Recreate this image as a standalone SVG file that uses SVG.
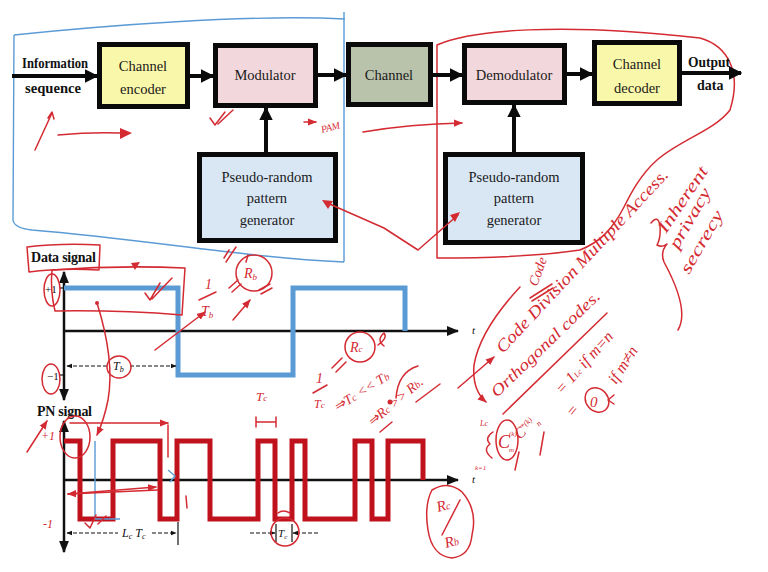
<svg xmlns="http://www.w3.org/2000/svg" width="768" height="572" viewBox="0 0 768 572">
<defs>
<style>
.blk{stroke:#0a0a0a;stroke-width:5}
.bt{font-family:"Liberation Serif",serif;font-size:14.5px;fill:#1a1a1a;text-anchor:middle}
.lb{font-family:"Liberation Serif",serif;font-size:14px;font-weight:bold;fill:#111}
.cn{stroke:#0a0a0a;stroke-width:4;fill:none}
.ax{stroke:#111;stroke-width:2.5;fill:none}
.dm{stroke:#111;stroke-width:1.2;fill:none;stroke-dasharray:4 2}
.it{font-family:"Liberation Serif",serif;font-style:italic;fill:#111}
.hw{font-family:"Liberation Serif",serif;font-style:italic;fill:#d42a32}
.rs{stroke:#d42a32;fill:none;stroke-width:1.5;stroke-linecap:round;stroke-linejoin:round}
.bs{stroke:#5b9bd5;fill:none;stroke-width:1.4}
</style>
<marker id="ah" viewBox="0 0 10 10" refX="9" refY="5" markerWidth="3.4" markerHeight="3.4" orient="auto"><path d="M0,0 L10,5 L0,10 Z" fill="#0a0a0a"/></marker>
<marker id="as" viewBox="0 0 10 10" refX="9" refY="5" markerWidth="5" markerHeight="5" orient="auto"><path d="M0,1 L10,5 L0,9 Z" fill="#111"/></marker>
<marker id="asb" viewBox="0 0 10 10" refX="1" refY="5" markerWidth="5" markerHeight="5" orient="auto"><path d="M10,1 L0,5 L10,9 Z" fill="#111"/></marker>
<marker id="ar" viewBox="0 0 10 10" refX="9" refY="5" markerWidth="6" markerHeight="6" orient="auto"><path d="M0,1 L10,5 L0,9 Z" fill="#d42a32"/></marker>
</defs>
<rect width="768" height="572" fill="#ffffff"/>

<!-- hand-drawn outlines -->
<path class="bs" d="M14,35 C100,26 250,14 345,19 M344,12 L344,262 M14,35 L13,220 Q14,228 32,230 C150,240 250,258 344,262"/>
<path class="rs" d="M437,258 L437,45 C470,30 560,22 700,38 C728,46 742,72 730,110 C715,130 680,140 657,160 C640,175 630,195 624,207 C612,230 600,242 580,250 C540,256 480,258 437,258"/>

<!-- connectors -->
<g id="connectors">
<line class="cn" x1="12" y1="76" x2="97" y2="76" marker-end="url(#ah)"/>
<line class="cn" x1="190" y1="76" x2="213" y2="76" marker-end="url(#ah)"/>
<line class="cn" x1="318" y1="75" x2="346" y2="75" marker-end="url(#ah)"/>
<line class="cn" x1="433" y1="75" x2="462" y2="75" marker-end="url(#ah)"/>
<line class="cn" x1="567" y1="74" x2="592" y2="74" marker-end="url(#ah)"/>
<line class="cn" x1="682" y1="73" x2="741" y2="73" marker-end="url(#ah)"/>
<line class="cn" x1="266" y1="152" x2="266" y2="108" marker-end="url(#ah)"/>
<line class="cn" x1="514" y1="152" x2="514" y2="105" marker-end="url(#ah)"/>
</g>

<text class="lb" x="22" y="68" textLength="66" lengthAdjust="spacingAndGlyphs">Information</text>
<text class="lb" x="25" y="93" textLength="56" lengthAdjust="spacingAndGlyphs">sequence</text>
<text class="lb" x="688" y="67" textLength="42" lengthAdjust="spacingAndGlyphs">Output</text>
<text class="lb" x="697" y="90">data</text>

<g id="encoder"><rect class="blk" x="99.5" y="44.5" width="88" height="62" fill="#f9f7a9"/>
<text class="bt" x="143" y="71">Channel</text><text class="bt" x="143" y="94">encoder</text></g>
<g id="modulator"><rect class="blk" x="215.5" y="45.5" width="100" height="60" fill="#f2d8dc"/>
<text class="bt" x="265" y="80">Modulator</text></g>
<g id="channel"><rect class="blk" x="348.5" y="44.5" width="82" height="60" fill="#b9c3ab"/>
<text class="bt" x="389" y="80">Channel</text></g>
<g id="demodulator"><rect class="blk" x="464.5" y="45.5" width="100" height="57" fill="#f2d8dc"/>
<text class="bt" x="514" y="80">Demodulator</text></g>
<g id="decoder"><rect class="blk" x="594.5" y="42.5" width="85" height="61" fill="#f9f7a9"/>
<text class="bt" x="637" y="69">Channel</text><text class="bt" x="637" y="93">decoder</text></g>
<g id="prpg-tx"><rect class="blk" x="199.5" y="154.5" width="136" height="86" fill="#d9e7f5"/>
<text class="bt" x="267" y="182">Pseudo-random</text><text class="bt" x="267" y="203">pattern</text><text class="bt" x="267" y="225">generator</text></g>
<g id="prpg-rx"><rect class="blk" x="445.5" y="154.5" width="137" height="88" fill="#d9e7f5"/>
<text class="bt" x="514" y="182">Pseudo-random</text><text class="bt" x="514" y="203">pattern</text><text class="bt" x="514" y="225">generator</text></g>

<!-- Data signal plot -->
<text class="lb" x="31" y="262" font-size="12" textLength="65">Data signal</text>
<line class="ax" x1="64" y1="400" x2="64" y2="272" marker-start="url(#asb)" marker-end="url(#as)"/>
<line class="ax" x1="64" y1="331" x2="458" y2="331" marker-end="url(#as)"/>
<line x1="60" y1="288" x2="64" y2="288" stroke="#111" stroke-width="1.2"/>
<line x1="60" y1="375" x2="64" y2="375" stroke="#111" stroke-width="1.2"/>
<text class="it" x="472" y="334" font-size="11">t</text>
<text x="45" y="293" font-family="Liberation Serif,serif" font-size="11" fill="#111">+1</text>
<text x="47" y="380" font-family="Liberation Serif,serif" font-size="11" fill="#111">−1</text>
<path d="M64,288 H178 V375 H293 V288 H405 V331" fill="none" stroke="#5b9bd5" stroke-width="5"/>
<line class="dm" x1="67" y1="366" x2="108" y2="366" marker-start="url(#asb)"/>
<line class="dm" x1="130" y1="366" x2="176" y2="366" marker-end="url(#as)"/>
<text class="it" x="113" y="370" font-size="12">T<tspan font-size="8" dy="2">b</tspan></text>

<!-- PN signal plot -->
<text class="lb" x="37" y="416" font-size="11.5" textLength="55">PN signal</text>
<line class="ax" x1="64" y1="552" x2="64" y2="421" marker-start="url(#asb)" marker-end="url(#as)"/>
<line class="ax" x1="64" y1="480" x2="458" y2="480" marker-end="url(#as)"/>
<text class="it" x="472" y="483" font-size="11">t</text>
<path d="M64,441 H80 V519 H113 V441 H160 V519 H177 V441 H210 V519 H258 V441 H275 V519 H292 V441 H305 V519 H355 V441 H372 V519 H388 V441 H423 V480" fill="none" stroke="#c0121c" stroke-width="5"/>
<line class="dm" x1="67" y1="533" x2="118" y2="533" marker-start="url(#asb)"/>
<line class="dm" x1="152" y1="533" x2="176" y2="533" marker-end="url(#as)"/>
<line x1="178" y1="522" x2="178" y2="545" stroke="#111" stroke-width="1.2"/>
<text class="it" x="122" y="537" font-size="12">L<tspan font-size="8" dy="2">c</tspan><tspan dy="-2"> T</tspan><tspan font-size="8" dy="2">c</tspan></text>
<line class="dm" x1="250" y1="533" x2="275" y2="533" marker-end="url(#as)"/>
<line class="dm" x1="318" y1="533" x2="293" y2="533" marker-end="url(#as)"/>
<line x1="276" y1="524" x2="276" y2="542" stroke="#111" stroke-width="1.2"/>
<line x1="292" y1="524" x2="292" y2="542" stroke="#111" stroke-width="1.2"/>
<text class="it" x="278" y="537" font-size="11">T<tspan font-size="7" dy="2">c</tspan></text>

<!-- blue pen marks -->
<path class="bs" d="M95,441 V519 H120 M168,470 L175,476 L170,482"/>

<!-- red pen annotations: top -->
<path class="rs" d="M35,150 L52,113 M48,118 L52,112 L54,119"/>
<path class="rs" d="M58,135 Q90,132 120,133"/><path d="M120,128 L132,133 L120,139 Z" fill="#d42a32"/>
<path class="rs" d="M210,118 L215,125 L225,112 M218,124 L233,110"/>
<path class="rs" d="M304,122 H316" marker-end="url(#ar)"/>
<text class="hw" x="322" y="133" font-size="10" transform="rotate(-15 322 133)">PAM</text>
<path class="rs" d="M363,132 Q410,124 462,123" marker-end="url(#ar)"/>
<path class="rs" d="M384,228 L325,202 M384,228 L418,250 L458,215"/>
<path d="M322,200 L333,201 L328,209 Z M460,212 L455,222 L450,215 Z" fill="#d42a32"/>
<path class="rs" d="M224,258 L229,250 M226,262 L236,247 M248,255 L246,262"/>

<!-- red pen annotations: data signal -->
<path class="rs" d="M27,247 Q60,243 100,245 L99,270 Q60,268 29,272 Z"/>
<path class="rs" d="M52,270 Q120,265 185,268 L182,315 Q120,310 55,311 Q50,290 52,270"/>
<ellipse class="rs" cx="52" cy="290" rx="8" ry="16"/>
<ellipse class="rs" cx="51" cy="379" rx="9" ry="15"/>
<ellipse class="rs" cx="119" cy="367" rx="12" ry="11"/>
<path class="rs" d="M145,293 L150,300 L160,283 M152,299 L172,278"/>
<path d="M131,263 L140,262 L135,270 Z" fill="#d42a32"/>
<circle cx="97" cy="303" r="2" fill="#d42a32"/>
<path class="rs" d="M97,303 Q115,360 108,400 Q104,420 97,435" marker-end="url(#ar)"/>
<path class="rs" d="M155,350 L205,312" marker-end="url(#ar)"/>
<text class="hw" x="205" y="289" font-size="14">1</text>
<path class="rs" d="M199,300 L216,292"/>
<text class="hw" x="201" y="316" font-size="14">T<tspan font-size="9" dy="2">b</tspan></text>
<path class="rs" d="M229,288 L238,280 M232,292 L241,284"/>
<path class="rs" d="M233,320 L250,300" marker-end="url(#ar)"/>
<circle class="rs" cx="254" cy="273" r="18"/>
<text class="hw" x="244" y="278" font-size="14">R<tspan font-size="9" dy="2">b</tspan></text>
<path class="rs" d="M259,290 L270,284 M261,294 L272,288"/>

<!-- red pen annotations: Rc / Tc -->
<text class="hw" x="316" y="383" font-size="14">1</text>
<path class="rs" d="M313,393 L327,385"/>
<text class="hw" x="314" y="408" font-size="12">T<tspan font-size="9">c</tspan></text>
<path class="rs" d="M332,368 L342,358 M336,372 L346,362"/>
<circle class="rs" cx="360" cy="347" r="15"/>
<text class="hw" x="350" y="352" font-size="14">R<tspan font-size="9">c</tspan></text>
<path class="rs" d="M378,345 Q388,338 384,333 Q376,340 384,346"/>
<text class="hw" x="337" y="412" font-size="14" transform="rotate(-32 337 412)">⇒T<tspan font-size="10">c</tspan> &lt;&lt; T<tspan font-size="10">b</tspan></text>
<text class="hw" x="372" y="427" font-size="14" transform="rotate(-40 372 427)">⇒R<tspan font-size="10">c</tspan> &gt;&gt; R<tspan font-size="10">b</tspan>.</text>
<path class="rs" d="M396,398 Q398,372 418,366"/>
<circle cx="390" cy="402" r="2.5" fill="#d42a32"/>
<path class="rs" d="M416,402 L440,384 M380,432 L392,422"/>
<text class="hw" x="256" y="401" font-size="13">T<tspan font-size="9">c</tspan></text>
<path class="rs" d="M256,422 H276 M256,417 V427 M276,417 V427"/>
<circle class="rs" cx="285" cy="532" r="14"/>
<path class="rs" d="M278,513 Q283,509 290,513"/>

<!-- red pen annotations: PN signal -->
<path class="rs" d="M27,452 L47,421" marker-end="url(#ar)"/>
<text class="hw" x="41" y="440" font-size="12">+1</text>
<text class="hw" x="43" y="528" font-size="12">-1</text>
<ellipse class="rs" cx="75" cy="437" rx="15" ry="21"/>
<path class="rs" d="M70,423 H168" marker-end="url(#ar)"/>
<path class="rs" d="M168,425 V457"/>
<path class="rs" d="M158,490 L68,494" marker-end="url(#ar)"/>
<path class="rs" d="M68,494 L156,487" marker-end="url(#ar)"/>
<path class="rs" d="M85,523 L90,528 L96,515 M98,524 L106,516"/>
<path class="rs" d="M186,496 L187,508"/>

<!-- Rc/Rb -->
<path class="rs" d="M432,490 Q448,480 462,492 Q478,510 472,535 Q470,556 452,558 Q432,556 428,530 Q424,505 432,490"/>
<text class="hw" x="438" y="512" font-size="15" transform="rotate(-15 438 512)">R<tspan font-size="10">c</tspan></text>
<path class="rs" d="M460,500 L442,535"/>
<text class="hw" x="446" y="548" font-size="15" transform="rotate(-15 446 548)">R<tspan font-size="10">b</tspan></text>

<!-- right annotations -->
<text class="hw" x="537" y="287" font-size="14" transform="rotate(-70 537 287)">Code</text>
<path class="rs" d="M530,298 L552,284 M532,301 L553,288" stroke-width="2"/>
<text class="hw" x="503" y="354" font-size="17" transform="rotate(-47 503 354)" textLength="244" lengthAdjust="spacingAndGlyphs">Code Division  Multiple Access.</text>
<text class="hw" x="497" y="398" font-size="16" transform="rotate(-44 497 398)" textLength="145" lengthAdjust="spacingAndGlyphs">Orthogonal codes.</text>
<path class="rs" d="M503,414 L607,313" stroke-width="2.6"/>
<path class="rs" d="M520,287 Q480,330 474,365 Q472,390 486,402" marker-end="url(#ar)"/>
<path class="rs" d="M458,388 L494,357" marker-end="url(#ar)"/>
<text class="hw" x="480" y="426" font-size="8">Lc</text>
<path class="rs" d="M493,432 Q484,438 490,444 Q482,450 492,458"/>
<text class="hw" x="475" y="470" font-size="7">k=1</text>
<ellipse class="rs" cx="507" cy="440" rx="11" ry="20"/>
<text class="hw" x="498" y="448" font-size="18">C</text>
<text class="hw" x="509" y="436" font-size="7">(k)</text>
<text class="hw" x="509" y="452" font-size="7">m</text>
<text class="hw" x="520" y="440" font-size="15" transform="rotate(-45 520 440)">C<tspan font-size="8" dy="-5">*(k)</tspan><tspan font-size="8" dy="9">n</tspan></text>
<path class="rs" d="M515,470 L519,452 M540,455 L544,432"/>
<text class="hw" x="562" y="395" font-size="16" transform="rotate(-48 562 395)">= 1<tspan font-size="8">Lc</tspan>  if m=n</text>
<text class="hw" x="573" y="418" font-size="16" transform="rotate(-50 573 418)">=</text>
<ellipse class="rs" cx="597" cy="400" rx="11" ry="13" transform="rotate(-40 597 400)"/>
<text class="hw" x="590" y="407" font-size="15">0</text>
<path class="rs" d="M614,395 L608,400 L614,404"/>
<text class="hw" x="616" y="385" font-size="16" transform="rotate(-57 616 385)">if m≠n</text>
<path class="rs" d="M651,223 Q658,214 660,226 Q661,238 657,245 Q662,248 667,244 Q660,252 664,262 Q690,310 678,330"/>
<text class="hw" x="666" y="234" font-size="17" transform="rotate(-56 666 234)" textLength="76" lengthAdjust="spacingAndGlyphs">Inherent</text>
<text class="hw" x="678" y="250" font-size="17" transform="rotate(-60 678 250)" textLength="67" lengthAdjust="spacingAndGlyphs">privacy</text>
<text class="hw" x="689" y="275" font-size="17" transform="rotate(-60 689 275)" textLength="70" lengthAdjust="spacingAndGlyphs">secrecy</text>
</svg>
